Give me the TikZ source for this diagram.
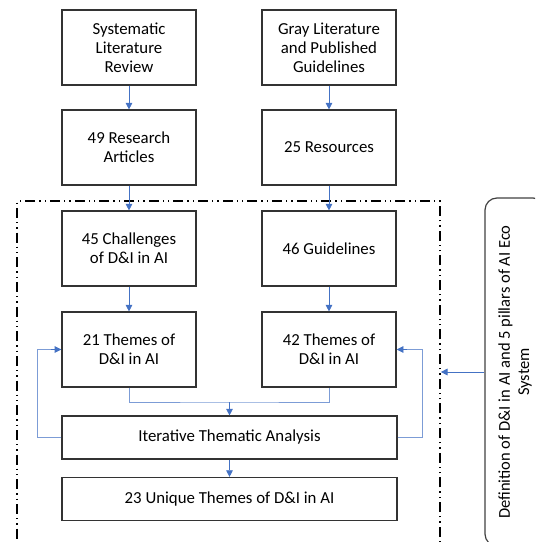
\documentclass[tikz,border=0pt]{standalone}
\usepackage{fontspec}
\setmainfont{Carlito}
\usetikzlibrary{arrows.meta}
\definecolor{flowblue}{HTML}{4472C4}
\tikzstyle{src}=[rectangle, draw=black!80, line width=1.1pt, fill=white, align=center, inner sep=2pt, minimum width=100.5pt, minimum height=56pt, font=\fontsize{12.6}{14.4}\selectfont]
\tikzstyle{wide}=[src, minimum width=251pt, minimum height=32pt]
\tikzstyle{defbox}=[rectangle, rounded corners=9pt, draw=black!75, line width=0.9pt, align=center, minimum width=261pt, minimum height=45pt, font=\fontsize{12.4}{14.4}\selectfont]
\tikzstyle{frame}=[rectangle, draw=black, line width=1.5pt, dash pattern=on 7.5pt off 3pt on 1pt off 3pt on 1pt off 3pt, minimum width=317pt, minimum height=286pt]
\tikzstyle{edge}=[draw=flowblue, line width=0.6pt, -{Triangle[length=5pt,width=5pt]}]
\tikzstyle{wedge}=[draw=flowblue!70, line width=0.6pt, -]

\begin{document}
\begin{tikzpicture}[x=0.75pt, y=-0.75pt]
				\useasboundingbox (0,0) rectangle (535,542);
				\clip (0,0) rectangle (535,542);
				
				%The dash-dot frame
				\draw (228.5,392) node[frame] (frame) {};
				
				%The left column
				\draw (129,47.5) node[src] (slr) {Systematic\\Literature\\Review};
				\draw (129,147.5) node[src] (ra) {49 Research\\Articles};
				\draw (129,248.5) node[src] (ch) {45 Challenges\\of D\&I in AI};
				\draw (129,349.5) node[src] (t21) {21 Themes of\\D\&I in AI};
				
				%The right column
				\draw (329,47.5) node[src] (gl) {Gray Literature\\and Published\\Guidelines};
				\draw (329,147.5) node[src] (res) {25 Resources};
				\draw (329,248.5) node[src] (gd) {46 Guidelines};
				\draw (329,349.5) node[src] (t42) {42 Themes of\\D\&I in AI};
				
				%The analysis
				\draw (229.5,437.5) node[wide] (ita) {Iterative Thematic Analysis};
				\draw (229.5,499) node[wide] (uniq) {23 Unique Themes of D\&I in AI};
				
				%The definition box
				\draw (515,372) node[defbox, rotate=90] (def) {Definition of D\&I in AI and 5 pillars of AI Eco\\System};
				
				\draw[edge] (slr) -- (ra);
				\draw[edge] (ra) -- (ch);
				\draw[edge] (ch) -- (t21);
				\draw[edge] (gl) -- (res);
				\draw[edge] (res) -- (gd);
				\draw[edge] (gd) -- (t42);
				
				\coordinate (merge) at (229.5,402);
				\draw[wedge] (t21.south) |- (merge) -| (t42.south);
				\draw[edge] (merge) -- (ita.north);
				\draw[edge] (ita) -- (uniq);
				
				\draw[wedge] (ita.west) -- ++(-24,0) |- ([xshift=-8pt]t21.west);
				\draw[edge] ([xshift=-8pt]t21.west) -- (t21.west);
				\draw[wedge] (ita.east) -- ++(25,0) |- ([xshift=8pt]t42.east);
				\draw[edge] ([xshift=8pt]t42.east) -- (t42.east);
				
				\draw[edge] (def.north) -- (frame.east |- def.north);
			\end{tikzpicture}
\end{document}
